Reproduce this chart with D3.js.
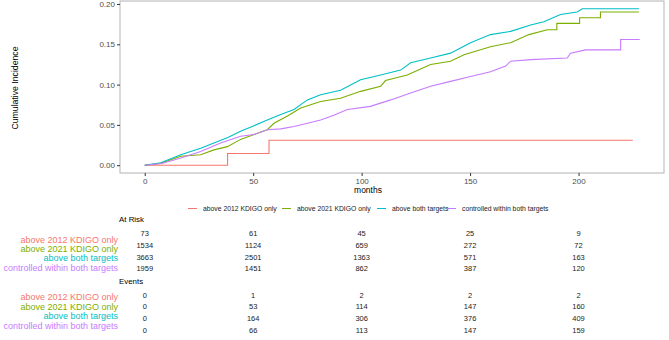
<!DOCTYPE html>
<html>
<head>
<meta charset="utf-8">
<script src="https://cdn.jsdelivr.net/npm/d3@7"></script>
<style>
  body { margin: 0; background: #fff; }
  svg { display: block; font-family: "Liberation Sans", Arial, sans-serif; }
</style>
</head>
<body>
<svg id="chart" width="669" height="340"></svg>
<script>
// ---- data ----
const groups = ["above 2012 KDIGO only", "above 2021 KDIGO only", "above both targets", "controlled within both targets"];
const groupColors = ["#F8766D", "#7CAE00", "#00BFC4", "#C77CFF"];

// [month, cumulative incidence]; repeated months = visible jumps
const curve2012 = [[0,0],[38.2,0],[38.2,0.0145],[57.3,0.0145],[57.3,0.031],[225,0.031]];
const curve2021 = [[0,0],[7,0.002],[16.6,0.011],[25.8,0.013],[31.9,0.019],[38.1,0.023],[44.2,0.032],[50.4,0.038],[56.5,0.044],[59.6,0.052],[65.8,0.061],[71.9,0.071],[81.1,0.079],[90.3,0.083],[99.5,0.0916],[108.8,0.098],[111,0.105],[121,0.112],[131.8,0.125],[141,0.129],[147.2,0.137],[159.4,0.147],[168.7,0.152],[177.1,0.162],[185.6,0.168],[190,0.168],[190,0.176],[200.5,0.176],[200.5,0.183],[210.1,0.183],[210.1,0.19],[227.8,0.19]];
const curveBoth = [[0,0],[7.4,0.003],[16.6,0.013],[25.8,0.021],[31.9,0.0275],[38.1,0.034],[44.2,0.042],[50.4,0.049],[56.5,0.056],[62.7,0.063],[68.8,0.069],[75,0.081],[81.1,0.0875],[90.3,0.093],[99.5,0.106],[108.8,0.112],[118,0.118],[122.6,0.127],[131.8,0.133],[141,0.139],[150.2,0.152],[159.4,0.162],[168.7,0.166],[177.9,0.174],[184,0.178],[191.7,0.187],[199.4,0.19],[201.7,0.194],[227.8,0.194]];
const curveControlled = [[0,0],[8,0.002],[16.6,0.009],[25.8,0.017],[35,0.0275],[44.2,0.036],[50.4,0.038],[56.5,0.044],[62.7,0.045],[68.8,0.048],[75,0.052],[81.1,0.056],[87.2,0.062],[93.4,0.069],[104,0.073],[113.4,0.081],[122.6,0.0896],[131.8,0.098],[141,0.104],[150.2,0.11],[159.4,0.116],[166.4,0.123],[168.7,0.129],[177.9,0.131],[194.8,0.133],[196.3,0.139],[203.2,0.143],[219.4,0.143],[219.4,0.156],[228.2,0.156]];
const curves = [curve2012, curve2021, curveBoth, curveControlled];

const xTicks = [0, 50, 100, 150, 200];
const yTicks = [0, 0.05, 0.10, 0.15, 0.20];

const atRisk = [
  [73, 61, 45, 25, 9],
  [1534, 1124, 659, 272, 72],
  [3663, 2501, 1363, 571, 163],
  [1959, 1451, 862, 387, 120]
];
const events = [
  [0, 1, 2, 2, 2],
  [0, 53, 114, 147, 160],
  [0, 164, 306, 376, 409],
  [0, 66, 113, 147, 159]
];

// ---- scales ----
const svg = d3.select("#chart");
const x = d3.scaleLinear().domain([-11.4, 239.4]).range([120, 664]);
const y = d3.scaleLinear().domain([-0.0097, 0.2037]).range([173, 1]);

// panel border
svg.append("rect")
  .attr("x", 120).attr("y", 1)
  .attr("width", 544).attr("height", 172)
  .attr("fill", "none")
  .attr("stroke", "#b3b3b3")
  .attr("stroke-width", 1);

// axes
const xAxis = svg.append("g")
  .attr("transform", "translate(0,173)")
  .call(d3.axisBottom(x).tickValues(xTicks).tickSize(3).tickPadding(2).tickFormat(d3.format("d")));
const yAxis = svg.append("g")
  .attr("transform", "translate(120,0)")
  .call(d3.axisLeft(y).tickValues(yTicks).tickSize(3).tickPadding(2).tickFormat(d3.format(".2f")));
[xAxis, yAxis].forEach(a => {
  a.select(".domain").remove();
  a.selectAll(".tick line").attr("stroke", "#333");
  a.selectAll(".tick text").attr("fill", "#4d4d4d").attr("font-size", 8)
    .attr("font-family", "Liberation Sans, Arial, sans-serif");
});

// axis titles
svg.append("text")
  .attr("x", 368).attr("y", 193)
  .attr("text-anchor", "middle")
  .attr("font-size", 8.5)
  .text("months");

svg.append("text")
  .attr("transform", "translate(18,88) rotate(-90)")
  .attr("text-anchor", "middle")
  .attr("font-size", 8.7)
  .text("Cumulative Incidence");

// curves
const line = d3.line()
  .x(d => x(d[0]))
  .y(d => y(d[1]));

curves.forEach((c, i) => {
  svg.append("path")
    .datum(c)
    .attr("fill", "none")
    .attr("stroke", groupColors[i])
    .attr("stroke-width", 1.1)
    .attr("stroke-linejoin", "miter")
    .attr("d", line);
});

// legend
const legendX = [188, 282, 377, 447];
groups.forEach((g, i) => {
  svg.append("line")
    .attr("x1", legendX[i]).attr("x2", legendX[i] + 9)
    .attr("y1", 208.5).attr("y2", 208.5)
    .attr("stroke", groupColors[i])
    .attr("stroke-width", 1);
  svg.append("text")
    .attr("x", legendX[i] + 15).attr("y", 208.5)
    .attr("dominant-baseline", "central")
    .attr("font-size", 6.8)
    .attr("fill", "#222")
    .text(g);
});

// risk tables
function drawTable(title, titleY, rows, labelY, valueY) {
  svg.append("text")
    .attr("x", 119).attr("y", titleY)
    .attr("dominant-baseline", "central")
    .attr("font-size", 7.9)
    .text(title);
  groups.forEach((g, i) => {
    svg.append("text")
      .attr("x", 118).attr("y", labelY[i])
      .attr("text-anchor", "end")
      .attr("dominant-baseline", "central")
      .attr("font-size", 9)
      .attr("fill", groupColors[i])
      .text(g);
    rows[i].forEach((v, j) => {
      svg.append("text")
        .attr("x", x(xTicks[j])).attr("y", valueY[i])
        .attr("text-anchor", "middle")
        .attr("dominant-baseline", "central")
        .attr("font-size", 7.5)
        .attr("fill", "#222")
        .text(v);
    });
  });
}

drawTable("At Risk", 219, atRisk, [239.5, 248.5, 258, 267.5], [233.5, 245, 257, 268.5]);
drawTable("Events", 281, events, [296.5, 306.5, 316, 325.5], [295, 306.7, 318.3, 330]);
</script>
</body>
</html>
